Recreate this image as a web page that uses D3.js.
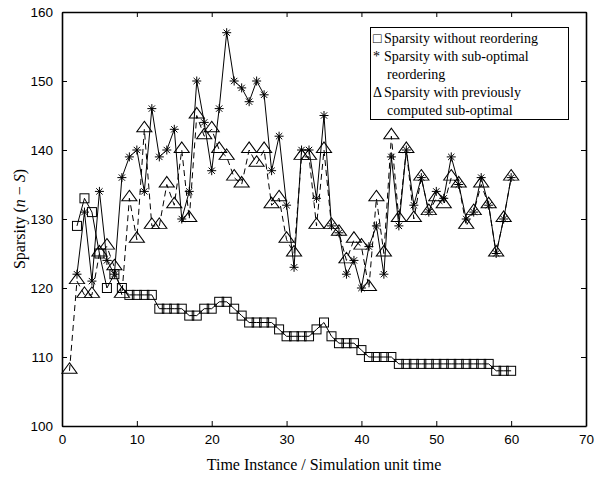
<!DOCTYPE html>
<html>
<head>
<meta charset="utf-8">
<script src="https://cdn.jsdelivr.net/npm/d3@7"></script>
<style>
  html, body { margin: 0; padding: 0; background: #fff; }
  svg { display: block; }
</style>
</head>
<body>
<div id="chart"></div>
<script>
// values
const timeNoReorder = [2, 3, 4, 5, 6, 7, 8, 9, 10, 11, 12, 13, 14, 15, 16, 17, 18, 19, 20, 21, 22, 23, 24, 25, 26, 27, 28, 29, 30,
  31, 32, 33, 34, 35, 36, 37, 38, 39, 40, 41, 42, 43, 44, 45, 46, 47, 48, 49, 50, 51, 52, 53, 54, 55, 56, 57, 58, 59, 60];
const sparsityNoReorder = [129, 133, 131, 125, 120, 122, 120, 119, 119, 119, 119, 117, 117, 117, 117, 116, 116, 117, 117, 118, 118,
  117, 116, 115, 115, 115, 115, 114, 113, 113, 113, 113, 114, 115, 113, 112, 112, 112, 111, 110, 110, 110, 110,
  109, 109, 109, 109, 109, 109, 109, 109, 109, 109, 109, 109, 109, 108, 108, 108];

const timeSubOpt = [2, 3, 4, 5, 6, 7, 8, 9, 10, 11, 12, 13, 14, 15, 16, 17, 18, 19, 20, 21, 22, 23, 24, 25, 26, 27, 28, 29, 30,
  31, 32, 33, 34, 35, 36, 37, 38, 39, 40, 41, 42, 43, 44, 45, 46, 47, 48, 49, 50, 51, 52, 53, 54, 55, 56, 57, 58, 59, 60];
const sparsitySubOpt = [122, 131, 121, 134, 124, 122, 136, 139, 140, 134, 146, 139, 140, 143, 130, 134, 150, 144, 137, 146, 157,
  150, 149, 147, 150, 148, 137, 142, 132, 123, 140, 140, 133, 145, 129, 128, 122, 124, 120, 126, 129, 122, 139,
  129, 140, 132, 136, 131, 134, 133, 139, 135, 130, 131, 136, 132, 125, 130, 136];

const timePrev = [1, 2, 3, 4, 5, 6, 7, 8, 9, 10, 11, 12, 13, 14, 15, 16, 17, 18, 19, 20, 21, 22, 23, 24, 25, 26, 27, 28, 29, 30,
  31, 32, 33, 34, 35, 36, 37, 38, 39, 40, 41, 42, 43, 44, 45, 46, 47, 48, 49, 50, 51, 52, 53, 54, 55, 56, 57, 58, 59, 60];
const sparsityPrev = [108, 121, 119, 119, 125, 126, 123, 119, 133, 127, 143, 129, 129, 135, 132, 140, 130, 145, 142, 143, 140,
  139, 136, 135, 140, 138, 140, 132, 133, 127, 125, 139, 139, 129, 140, 129, 128, 124, 127, 126, 120, 133, 125,
  142, 130, 140, 130, 136, 131, 133, 132, 136, 135, 129, 131, 135, 132, 125, 130, 136];

const xTicks = [0, 10, 20, 30, 40, 50, 60, 70];
const yTicks = [100, 110, 120, 130, 140, 150, 160];
const legendLines = [
  {sym: "\u25A1", text: "Sparsity without reordering"},
  {sym: "*", text: "Sparsity with sub-optimal"},
  {sym: "", text: "reordering"},
  {sym: "\u0394", text: "Sparsity with previously"},
  {sym: "", text: "computed sub-optimal"}
];

const width = 608, height = 477;
const margin = {left: 62, right: 22, top: 12, bottom: 51};
const x0 = margin.left, x1 = width - margin.right;
const y0 = height - margin.bottom, y1 = margin.top;

const svg = d3.select("#chart").append("svg")
  .attr("width", width)
  .attr("height", height);

const x = d3.scaleLinear().domain([0, 70]).range([x0, x1]);
const y = d3.scaleLinear().domain([100, 160]).range([y0, y1]);

const tickFont = "'Liberation Sans', Arial, sans-serif";
const serif = "'Liberation Serif', 'Times New Roman', serif";

// axes (ticks drawn inward, box all round)
const axisB = svg.append("g").attr("transform", `translate(0,${y0})`)
  .call(d3.axisBottom(x).tickValues(xTicks).tickSizeInner(-5).tickSizeOuter(0).tickPadding(8));
const axisT = svg.append("g").attr("transform", `translate(0,${y1})`)
  .call(d3.axisTop(x).tickValues(xTicks).tickSizeInner(-5).tickSizeOuter(0).tickFormat(""));
const axisL = svg.append("g").attr("transform", `translate(${x0},0)`)
  .call(d3.axisLeft(y).tickValues(yTicks).tickSizeInner(-5).tickSizeOuter(0).tickPadding(9));
const axisR = svg.append("g").attr("transform", `translate(${x1},0)`)
  .call(d3.axisRight(y).tickValues(yTicks).tickSizeInner(-5).tickSizeOuter(0).tickFormat(""));

[axisB, axisT, axisL, axisR].forEach(function(g) {
  g.select(".domain").attr("stroke", "#000").attr("stroke-width", 1.6);
  g.selectAll(".tick line").attr("stroke", "#000").attr("stroke-width", 1);
  g.selectAll(".tick text").attr("fill", "#000")
    .style("font-family", tickFont).style("font-size", "13.5px");
});

const dataG = svg.append("g");

function series(xs, ys) {
  return xs.map((d, i) => [d, ys[i]]);
}

const line = d3.line().x(d => x(d[0])).y(d => y(d[1]));

// previously computed (dashed, triangles)
const prev = series(timePrev, sparsityPrev);
dataG.append("path").datum(prev)
  .attr("d", line).attr("fill", "none")
  .attr("stroke", "#000").attr("stroke-width", 1)
  .attr("stroke-dasharray", "6,4");

// sub-optimal (solid, stars)
const sub = series(timeSubOpt, sparsitySubOpt);
dataG.append("path").datum(sub)
  .attr("d", line).attr("fill", "none")
  .attr("stroke", "#000").attr("stroke-width", 1);

// without reordering (solid, squares)
const noRe = series(timeNoReorder, sparsityNoReorder);
dataG.append("path").datum(noRe)
  .attr("d", line).attr("fill", "none")
  .attr("stroke", "#000").attr("stroke-width", 1);

// markers
dataG.selectAll(".sq").data(noRe).enter().append("rect")
  .attr("class", "sq")
  .attr("x", d => x(d[0]) - 4.5).attr("y", d => y(d[1]) - 4.5)
  .attr("width", 9).attr("height", 9)
  .attr("fill", "none").attr("stroke", "#000").attr("stroke-width", 1);

const tri = d3.symbol().type(d3.symbolTriangle).size(64);
dataG.selectAll(".tri").data(prev).enter().append("path")
  .attr("class", "tri")
  .attr("d", tri)
  .attr("transform", d => `translate(${x(d[0])},${y(d[1]) - 1}) scale(1.25,1)`)
  .attr("fill", "none").attr("stroke", "#000").attr("stroke-width", 0.9);

const starR = 4.5;
const star = "M" + (-starR) + ",0H" + starR + "M0," + (-starR) + "V" + starR +
  "M" + (-starR * 0.7) + "," + (-starR * 0.7) + "L" + (starR * 0.7) + "," + (starR * 0.7) +
  "M" + (-starR * 0.7) + "," + (starR * 0.7) + "L" + (starR * 0.7) + "," + (-starR * 0.7);
dataG.selectAll(".star").data(sub).enter().append("path")
  .attr("class", "star")
  .attr("d", star)
  .attr("transform", d => `translate(${x(d[0])},${y(d[1])})`)
  .attr("fill", "none").attr("stroke", "#000").attr("stroke-width", 1);

// legend
const lg = svg.append("g");
lg.append("rect")
  .attr("x", 370.5).attr("y", 27.5).attr("width", 198).attr("height", 92)
  .attr("fill", "#fff").attr("stroke", "#000").attr("stroke-width", 1);
legendLines.forEach(function(l, i) {
  const yy = 43 + i * 18;
  if (l.sym) {
    lg.append("text").attr("x", 373).attr("y", yy)
      .style("font-family", serif).style("font-size", "14px").text(l.sym);
  }
  lg.append("text").attr("x", l.sym ? 384 : 387).attr("y", yy)
    .style("font-family", serif).style("font-size", "14px").text(l.text);
});

// axis titles
svg.append("text")
  .attr("x", (x0 + x1) / 2).attr("y", 470)
  .attr("text-anchor", "middle")
  .style("font-family", serif).style("font-size", "16px")
  .text("Time Instance / Simulation unit time");

const yl = svg.append("text")
  .attr("transform", `translate(25,${(y0 + y1) / 2}) rotate(-90)`)
  .attr("text-anchor", "middle")
  .style("font-family", serif).style("font-size", "16px");
yl.append("tspan").text("Sparsity (");
yl.append("tspan").style("font-style", "italic").text("n");
yl.append("tspan").text(" \u2212 ");
yl.append("tspan").style("font-style", "italic").text("S");
yl.append("tspan").text(")");
</script>
</body>
</html>
